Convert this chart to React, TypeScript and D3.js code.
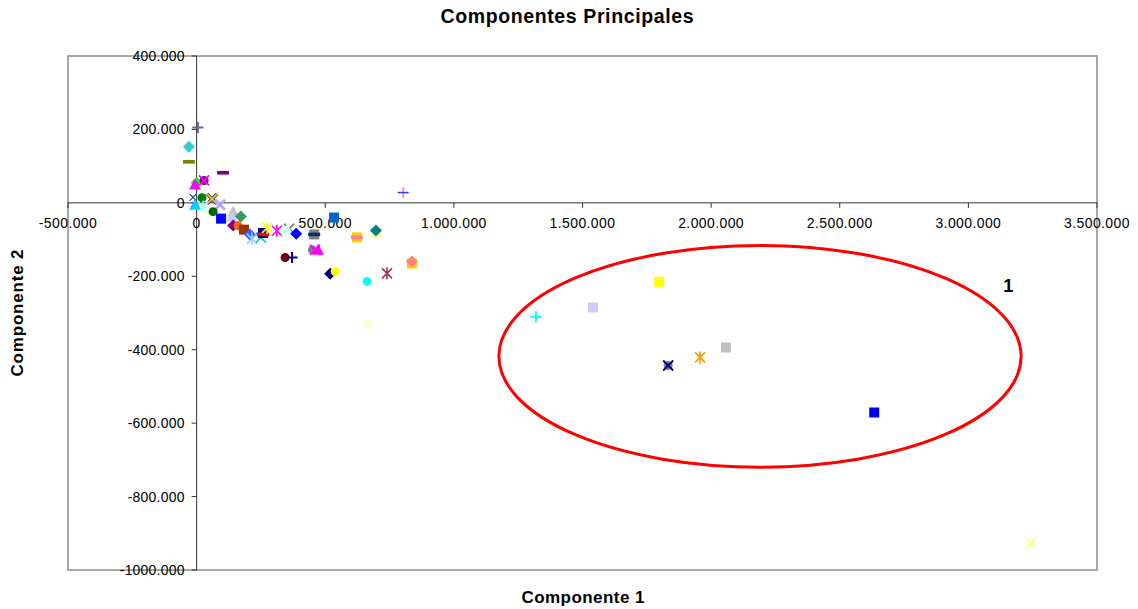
import React from "react";
import * as d3 from "d3";

const W = 1138;
const H = 609;

const chartTitle = "Componentes Principales";
const xTitle = "Componente 1";
const yTitle = "Componente 2";

const xTicks = [-500000, 0, 500000, 1000000, 1500000, 2000000, 2500000, 3000000, 3500000];
const xTickLabels = ["-500.000", "0", "500.000", "1.000.000", "1.500.000", "2.000.000", "2.500.000", "3.000.000", "3.500.000"];
const yTicks = [400000, 200000, 0, -200000, -400000, -600000, -800000, -1000000];
const yTickLabels = ["400.000", "200.000", "0", "-200.000", "-400.000", "-600.000", "-800.000", "-1000.000"];

// Component scores (x = Componente 1, y = Componente 2)
const comp1 = [
  -30000, 5000, -30000, -30000, 103000, 103000, 0, -6000, 29000, 29000,
  -14000, 21000, 60000, 60000, 91000, -6000, 25000, 64000, 64000, 142000,
  172000, 137000, 95000, 142000, 161000, 184000, 207000, 215000, 250000, 258000,
  258000, 274000, 312000, 360000, 352000, 387000, 344000, 371000, 457000, 457000,
  450000, 472000, 460000, 534000, 623000, 623000, 697000, 697000, 803000, 803000,
  519000, 539000, 663000, 740000, 837000, 837000, 667000, 1319000, 1541000, 1798000,
  1833000, 1833000, 1957000, 2058000, 2634000, 3244000,
];
const comp2 = [
  153000, 205000, 109000, 112000, 79000, 82000, 55000, 50000, 61000, 61000,
  15000, 14000, 11000, 11000, -5000, -5000, -10000, -24000, -24000, -24000,
  -37000, -37000, -43000, -62000, -62000, -73000, -86000, -98000, -95000, -82000,
  -86000, -68000, -76000, -70000, -73000, -84000, -149000, -149000, -86000, -86000,
  -128000, -128000, -128000, -40000, -94000, -94000, -81000, -75000, 28000, 28000,
  -193000, -187000, -214000, -192000, -165000, -160000, -331000, -310000, -285000, -215000,
  -443000, -443000, -421000, -394000, -571000, -927000,
];
const markerShapes = [
  "diamond", "plus", "dash", "dash", "dash", "dash", "diamond", "triangle", "circle", "x",
  "xsmall", "circle", "xbold", "x", "xbold", "triangle", "asterisk", "smallsquare", "circle", "triangle",
  "diamond", "triangle", "square", "diamond", "circle", "square", "diamond", "asterisk", "x", "square",
  "dash", "asterisk", "asterisk", "x", "triangle", "diamond", "circle", "plus", "square", "dash",
  "circle", "triangle", "x", "square", "square", "dash", "square", "diamond", "vbar", "hbar",
  "diamond", "circle", "circle", "asterisk", "square", "diamond", "circle", "plus", "square", "square",
  "circle", "x", "asterisk", "square", "square", "x",
];
const markerColors = [
  "#33CCCC", "#666699", "#CCFFFF", "#808000", "#CCFFCC", "#800080", "#00FF00", "#FF00FF", "#800080", "#FF00FF",
  "#333399", "#008000", "#000080", "#FFCC00", "#B4A7FF", "#00CCFF", "#99FFEE", "#000000", "#006600", "#C0C0C0",
  "#339966", "#CCCCFF", "#0000FF", "#800080", "#FF6600", "#993300", "#3366FF", "#99CCFF", "#00CCFF", "#000080",
  "#FF0000", "#FFFF00", "#FF00FF", "#808080", "#CCFFFF", "#0000FF", "#800000", "#000080", "#808080", "#003366",
  "#808080", "#FF00FF", "#FF00FF", "#0066CC", "#FFCC00", "#FF8080", "#FFFF99", "#008080", "#FF99CC", "#3333FF",
  "#000080", "#FFFF00", "#00FFFF", "#993366", "#FFCC00", "#FF8080", "#FFFFCC", "#00FFFF", "#CCCCFF", "#FFFF00",
  "#808080", "#000080", "#FF9900", "#C0C0C0", "#0000FF", "#FFFF80",
];

// Highlighted group (ellipse) in data units
const groupCenter = [2190000, -418000];
const groupRadii = [1015000, 302000];
const groupLabel = "1";
const groupLabelPos = [3155000, -243000];

const plot = { left: 68, right: 1097, top: 56, bottom: 570 };

function markerPath(shape: string): { d: string; filled: boolean; sw: number } {
  switch (shape) {
    case "square":
      return { d: "M-5,-5H5V5H-5Z", filled: true, sw: 0 };
    case "smallsquare":
      return { d: "M-3,-3H3V3H-3Z", filled: true, sw: 0 };
    case "diamond":
      return { d: "M0,-6L6,0L0,6L-6,0Z", filled: true, sw: 0 };
    case "triangle":
      return { d: "M0,-6L6,5H-6Z", filled: true, sw: 0 };
    case "circle":
      return { d: d3.symbol(d3.symbolCircle, 64)() || "", filled: true, sw: 0 };
    case "dash":
      return { d: "M-6,-1.8H6V1.8H-6Z", filled: true, sw: 0 };
    case "plus":
      return { d: "M-5.5,0H5.5M0,-5.5V5.5", filled: false, sw: 2 };
    case "vbar":
      return { d: "M0,-5.5V5.5", filled: false, sw: 2 };
    case "hbar":
      return { d: "M-5.5,0H5.5", filled: false, sw: 1.5 };
    case "x":
      return { d: "M-5,-5L5,5M-5,5L5,-5", filled: false, sw: 1.8 };
    case "xsmall":
      return { d: "M-3.5,-3.5L3.5,3.5M-3.5,3.5L3.5,-3.5", filled: false, sw: 1.2 };
    case "xbold":
      return { d: "M-5,-5L5,5M-5,5L5,-5", filled: false, sw: 3 };
    case "asterisk":
      return { d: "M-5,-5L5,5M-5,5L5,-5M0,-6V6", filled: false, sw: 1.6 };
    default:
      return { d: "", filled: true, sw: 0 };
  }
}

export default function App() {
  const x = d3.scaleLinear().domain([-500000, 3500000]).range([plot.left, plot.right]);
  const y = d3.scaleLinear().domain([-1000000, 400000]).range([plot.bottom, plot.top]);
  const x0 = x(0);
  const y0 = y(0);
  const font = "'Liberation Sans', Arial, sans-serif";

  return (
    <svg
      width={W}
      height={H}
      style={{ position: "absolute", left: 0, top: 0, background: "#fff" }}
      fontFamily={font}
    >
      <text
        x={567}
        y={23}
        textAnchor="middle"
        fontSize={19.5}
        fontWeight="bold"
        fill="#000"
        textLength={253}
        lengthAdjust="spacing"
      >
        {chartTitle}
      </text>
      <rect
        x={plot.left}
        y={plot.top}
        width={plot.right - plot.left}
        height={plot.bottom - plot.top}
        fill="#fff"
        stroke="#8c8c8c"
        strokeWidth={1.5}
      />
      {/* axes */}
      <line x1={plot.left} x2={plot.right} y1={y0} y2={y0} stroke="#333" strokeWidth={1} />
      <line x1={x0} x2={x0} y1={plot.top} y2={plot.bottom} stroke="#333" strokeWidth={1} />
      {xTicks.map((t, i) => (
        <g key={"xt" + i}>
          <line x1={x(t)} x2={x(t)} y1={y0} y2={y0 + 5} stroke="#333" />
          <text x={x(t)} y={y0 + 25} textAnchor="middle" fontSize={14} letterSpacing={0.4} fill="#000">
            {xTickLabels[i]}
          </text>
        </g>
      ))}
      {yTicks.map((t, i) => (
        <g key={"yt" + i}>
          <line x1={x0 - 5} x2={x0} y1={y(t)} y2={y(t)} stroke="#333" />
          <text x={x0 - 12} y={y(t) + 5} textAnchor="end" fontSize={14} letterSpacing={0.2} fill="#000">
            {yTickLabels[i]}
          </text>
        </g>
      ))}
      {/* markers */}
      {comp1.map((v, i) => {
        const m = markerPath(markerShapes[i]);
        return (
          <path
            key={"p" + i}
            d={m.d}
            transform={`translate(${x(v)},${y(comp2[i])})`}
            fill={m.filled ? markerColors[i] : "none"}
            stroke={m.filled ? "none" : markerColors[i]}
            strokeWidth={m.sw}
          />
        );
      })}
      {/* group ellipse */}
      <ellipse
        cx={x(groupCenter[0])}
        cy={y(groupCenter[1])}
        rx={x(groupCenter[0] + groupRadii[0]) - x(groupCenter[0])}
        ry={y(groupCenter[1] - groupRadii[1]) - y(groupCenter[1])}
        fill="none"
        stroke="#FF0000"
        strokeWidth={3}
      />
      <text
        x={x(groupLabelPos[0])}
        y={y(groupLabelPos[1])}
        textAnchor="middle"
        fontSize={18}
        fontWeight="bold"
        fill="#000"
      >
        {groupLabel}
      </text>
      <text
        x={583}
        y={603}
        textAnchor="middle"
        fontSize={17}
        fontWeight="bold"
        fill="#000"
        textLength={123}
        lengthAdjust="spacing"
      >
        {xTitle}
      </text>
      <text
        transform={`translate(23,313) rotate(-90)`}
        textAnchor="middle"
        fontSize={17}
        fontWeight="bold"
        fill="#000"
        textLength={127}
        lengthAdjust="spacing"
      >
        {yTitle}
      </text>
    </svg>
  );
}
